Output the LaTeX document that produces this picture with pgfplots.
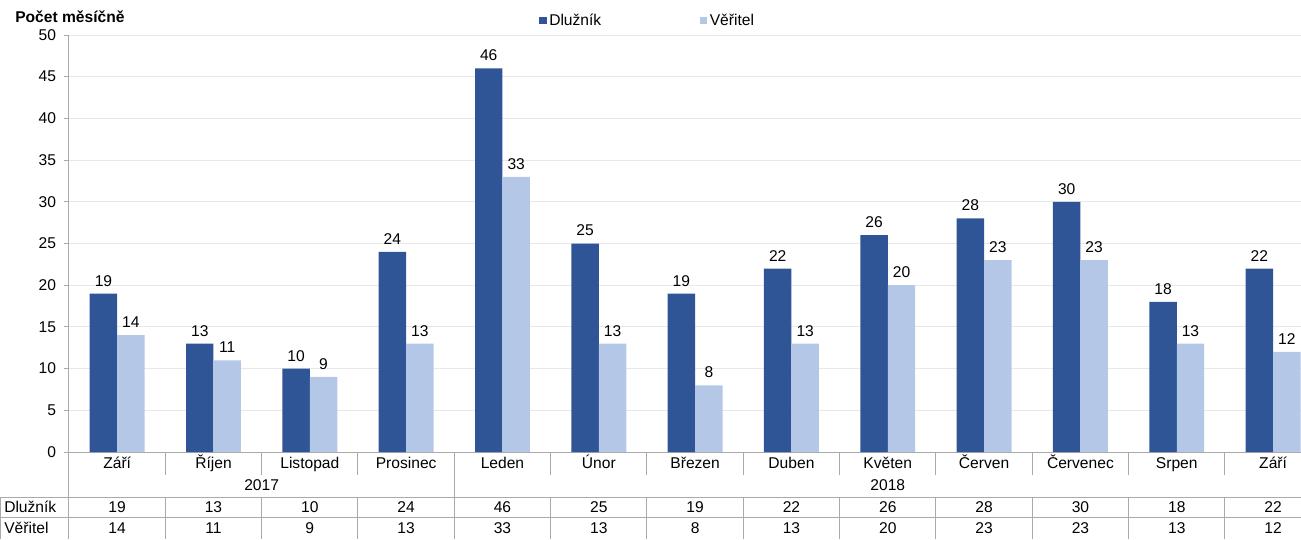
\documentclass[border=0pt]{standalone}
\usepackage{pgfplots}
\pgfplotsset{compat=1.18}
\usepackage{pgfplotstable}
\usepackage{fontspec}
\setmainfont{Liberation Sans}
\definecolor{dblue}{RGB}{47,85,151}
\definecolor{lblue}{RGB}{180,199,231}
\definecolor{gridc}{RGB}{232,232,232}
\definecolor{linec}{RGB}{170,170,170}
\pgfplotstableread{
m dl ve
Září 19 14
Říjen 13 11
Listopad 10 9
Prosinec 24 13
Leden 46 33
Únor 25 13
Březen 19 8
Duben 22 13
Květen 26 20
Červen 28 23
Červenec 30 23
Srpen 18 13
Září 22 12
}\data
\newcommand{\cf}{\fontsize{11.7}{14}\selectfont}
\begin{document}
\begin{tikzpicture}
\begin{axis}[
  at={(0,0)}, anchor=south west,
  scale only axis, width=924pt, height=312.75pt,
  xmin=-0.5, xmax=12.29, ymin=0, ymax=50,
  axis x line*=bottom, axis y line*=left,
  xtick=\empty, ytick={0,5,...,50},
  ymajorgrids, major grid style={gridc, line width=0.75pt},
  axis line style={linec, line width=0.75pt},
  tick align=outside, major tick length=3.75pt,
  tick style={linec, line width=0.75pt},
  yticklabel style={xshift=-2.5pt, font=\cf},
  clip=false,
  font=\cf,
  /pgf/number format/assume math mode=true,
  legend style={at={(0.47,1)}, anchor=center, yshift=10.5pt, draw=none, fill=none,
    legend columns=2, font=\cf, inner sep=0pt,
    /tikz/every even column/.append style={column sep=72pt}},
  legend cell align=left,
]
\addplot[ybar, bar width=20.6pt, bar shift=-10.3pt, fill=dblue, draw=none,
  nodes near coords, every node near coord/.append style={font=\cf, yshift=2pt, xshift=-10.3pt, text=black},
  legend image code/.code={\fill[dblue] (0pt,-2.6pt) rectangle (5.4pt,2.8pt);}]
  table[x expr=\coordindex, y=dl]{\data};
\addlegendentry{Dlužník}
\addplot[ybar, bar width=20.6pt, bar shift=10.3pt, fill=lblue, draw=none,
  nodes near coords, every node near coord/.append style={font=\cf, yshift=2pt, xshift=10.3pt, text=black},
  legend image code/.code={\fill[lblue] (0pt,-2.6pt) rectangle (5.4pt,2.8pt);}]
  table[x expr=\coordindex, y=ve]{\data};
\addlegendentry{Věřitel}
% table rows
\addplot[forget plot, only marks, mark=*, mark size=0pt, mark options={draw=none,fill=none},
  nodes near coords, point meta=explicit symbolic, nodes near coords align={anchor=center},
  every node near coord/.append style={font=\cf, inner sep=0pt, text height=1.55ex, text depth=0.25ex}]
  table[x expr=\coordindex, y expr=-1.38, meta=m]{\data};
\addplot[forget plot, only marks, mark=*, mark size=0pt, mark options={draw=none,fill=none},
  nodes near coords, point meta=explicit symbolic, nodes near coords align={anchor=center},
  every node near coord/.append style={font=\cf, inner sep=0pt, text height=1.55ex, text depth=0.25ex}]
  table[x expr=\coordindex, y expr=-6.71, meta=dl]{\data};
\addplot[forget plot, only marks, mark=*, mark size=0pt, mark options={draw=none,fill=none},
  nodes near coords, point meta=explicit symbolic, nodes near coords align={anchor=center},
  every node near coord/.append style={font=\cf, inner sep=0pt, text height=1.55ex, text depth=0.25ex}]
  table[x expr=\coordindex, y expr=-9.23, meta=ve]{\data};
% years
\node[font=\cf, inner sep=0pt, text height=1.55ex, text depth=0.25ex] at (axis cs:1.5,-4.08) {2017};
\node[font=\cf, inner sep=0pt, text height=1.55ex, text depth=0.25ex] at (axis cs:8,-4.08) {2018};
% row labels
\node[font=\cf, inner sep=0pt, anchor=west, text height=1.55ex, text depth=0.25ex] at ([xshift=-48.75pt]axis cs:-0.5,-6.71) {Dlužník};
\node[font=\cf, inner sep=0pt, anchor=west, text height=1.55ex, text depth=0.25ex] at ([xshift=-48.75pt]axis cs:-0.5,-9.23) {Věřitel};
% title
\node[font=\cf\bfseries, inner sep=0pt, anchor=west] at ([xshift=-40.5pt,yshift=13.5pt]axis cs:-0.5,50) {Počet měsíčně};
% table lines
\draw[linec, line width=0.75pt] (axis cs:-0.5,0) -- (axis cs:-0.5,-10.43);
\draw[linec, line width=0.75pt] (axis cs:3.5,0) -- (axis cs:3.5,-10.43);
\pgfplotsinvokeforeach{0.5,1.5,2.5,4.5,5.5,6.5,7.5,8.5,9.5,10.5,11.5}{
  \draw[linec, line width=0.75pt] (axis cs:#1,0) -- (axis cs:#1,-2.76);
  \draw[linec, line width=0.75pt] (axis cs:#1,-5.40) -- (axis cs:#1,-10.43);
}
\draw[linec, line width=0.75pt] ([xshift=-51.4pt]axis cs:-0.5,-5.40) -- (axis cs:12.29,-5.40);
\draw[linec, line width=0.75pt] ([xshift=-51.4pt]axis cs:-0.5,-7.91) -- (axis cs:12.29,-7.91);
\draw[linec, line width=0.75pt] ([xshift=-51.4pt]axis cs:-0.5,-5.40) -- ([xshift=-51.4pt]axis cs:-0.5,-10.43);
\end{axis}
\pgfresetboundingbox
\path (-51.75pt,-65.25pt) rectangle (924pt,339pt);
\end{tikzpicture}
\end{document}
